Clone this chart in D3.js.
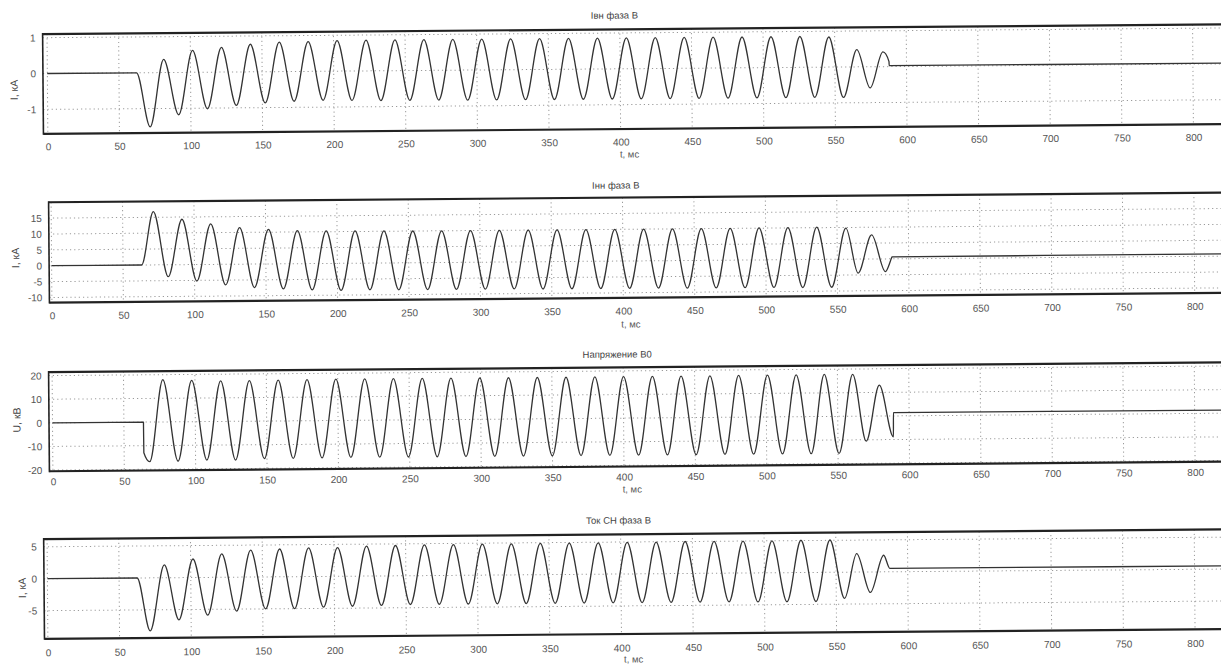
<!DOCTYPE html>
<html><head><meta charset="utf-8">
<script src="https://cdn.jsdelivr.net/npm/d3@7"></script>
<style>
body{margin:0;background:#fff}
svg{display:block}
text{font-family:Arial,"Liberation Sans",sans-serif}
</style>
</head><body>
<svg id="c" width="1221" height="668"></svg>
<script>
// ---------- data ----------
const timeTicks = [0,50,100,150,200,250,300,350,400,450,500,550,600,650,700,750,800];
const panelTitles = ["Iвн фаза В","Iнн фаза В","Напряжение В0","Ток СН фаза В"];
const yAxisLabels = ["I, кА","I, кА","U, кВ","I, кА"];
const xAxisLabel = "t, мс";
const yTicksIvn = [-1,0,1];
const yTicksInn = [-10,-5,0,5,10,15];
const yTicksU   = [-20,-10,0,10,20];
const yTicksIsn = [-5,0,5];

// [t (ms), value] : start, peaks/troughs, end
const ivnPhaseB = [[0,0],[62.3,0],[71.5,-1.51],[81.3,0.37],[91.5,-1.18],[101.5,0.61],[111.6,-1.02],[121.7,0.69],[131.8,-0.93],[141.9,0.77],[152.0,-0.87],[162.1,0.82],[172.2,-0.83],[182.3,0.83],[192.4,-0.81],[202.5,0.85],[212.6,-0.82],[222.7,0.86],[232.8,-0.83],[242.9,0.86],[253.0,-0.83],[263.1,0.86],[273.2,-0.83],[283.3,0.86],[293.4,-0.84],[303.5,0.86],[313.6,-0.84],[323.7,0.86],[333.8,-0.84],[343.9,0.86],[354.0,-0.84],[364.1,0.86],[374.2,-0.84],[384.3,0.86],[394.4,-0.84],[404.5,0.86],[414.6,-0.84],[424.7,0.86],[434.8,-0.84],[444.9,0.86],[455.0,-0.84],[465.1,0.86],[475.2,-0.84],[485.3,0.86],[495.4,-0.84],[505.5,0.86],[515.6,-0.84],[525.7,0.86],[535.8,-0.84],[545.9,0.84],[555.8,-0.85],[565.4,0.48],[574.5,-0.59],[583.6,0.41],[587.8,0.14],[587.9,0.03],[830,0.02]];

const innPhaseB = [[0,0],[63,0],[71.5,16.8],[81.6,-3.75],[91.5,14.3],[101.6,-5.2],[111.6,12.8],[121.7,-6.5],[131.8,11.5],[141.9,-7.4],[152.0,10.9],[162.1,-7.9],[172.2,10.4],[182.3,-8.3],[192.4,10.3],[202.5,-8.5],[212.6,10.2],[222.7,-8.4],[232.8,10.1],[242.9,-8.5],[253.0,10.0],[263.1,-8.5],[273.2,10.0],[283.3,-8.5],[293.4,10.0],[303.5,-8.5],[313.6,10.0],[323.7,-8.5],[333.8,10.0],[343.9,-8.6],[354.0,10.0],[364.1,-8.6],[374.2,10.0],[384.3,-8.6],[394.4,10.0],[404.5,-8.6],[414.6,10.0],[424.7,-8.6],[434.8,10.0],[444.9,-8.7],[455.0,10.0],[465.1,-8.7],[475.2,10.0],[485.3,-8.7],[495.4,10.1],[505.5,-8.7],[515.6,10.1],[525.7,-8.8],[535.8,10.2],[545.9,-8.8],[556.2,9.8],[564.5,-4.4],[574.2,7.6],[583.6,-4.0],[588.2,0.5],[588.3,0.6],[830,0.7]];

const voltageB0 = [[0,0],[63.7,0],[63.8,-13],[67.9,-16.8],[77.5,17.9],[87.7,-16.7],[97.7,17.5],[107.9,-16.3],[118.0,17.2],[128.0,-16.4],[138.1,17.2],[148.2,-15.9],[158.3,17.3],[168.4,-15.9],[178.5,17.4],[188.6,-15.8],[198.7,17.5],[208.8,-15.7],[218.9,17.5],[229.0,-15.7],[239.0,17.5],[249.1,-15.7],[259.2,17.5],[269.3,-15.7],[279.3,17.5],[289.4,-15.7],[299.5,17.5],[309.6,-15.7],[319.6,17.5],[329.7,-15.7],[339.8,17.5],[349.9,-15.7],[359.9,17.5],[370.0,-15.7],[380.1,17.6],[390.2,-15.7],[400.2,17.6],[410.3,-15.7],[420.4,17.6],[430.5,-15.7],[440.5,17.6],[450.6,-15.7],[460.7,17.6],[470.8,-15.7],[480.8,17.7],[490.9,-15.7],[501.0,17.7],[511.1,-15.7],[521.1,17.7],[531.2,-15.7],[540.8,17.8],[550.7,-15.7],[560.7,17.7],[569.8,-10.6],[579.3,13.1],[588.9,-8.9],[589.0,1.4],[830,1.3]];

const isnPhaseB = [[0,0],[62.6,0],[71.4,-8.3],[81.6,2.0],[91.5,-6.6],[101.6,2.9],[111.6,-5.9],[121.7,3.65],[131.8,-5.3],[141.9,4.2],[152.0,-5.0],[162.1,4.35],[172.2,-5.0],[182.3,4.5],[192.4,-4.8],[202.5,4.5],[212.6,-4.7],[222.7,4.7],[232.8,-4.6],[242.9,4.75],[253.0,-4.5],[263.1,4.8],[273.2,-4.5],[283.3,4.8],[293.4,-4.5],[303.5,4.85],[313.6,-4.5],[323.7,4.85],[333.8,-4.5],[343.9,4.9],[354.0,-4.5],[364.1,4.9],[374.2,-4.5],[384.3,4.9],[394.4,-4.5],[404.5,4.95],[414.6,-4.5],[424.7,4.95],[434.8,-4.5],[444.9,5.0],[455.0,-4.5],[465.1,5.0],[475.2,-4.5],[485.3,5.0],[495.4,-4.55],[505.5,5.0],[515.6,-4.55],[525.7,5.05],[535.8,-4.55],[545.9,5.05],[555.8,-4.1],[564.5,2.9],[573.8,-3.2],[583.3,2.6],[587.5,0.55],[830,0.5]];

const yDomains = [[-1.68,1.10],[-11.6,20.0],[-20.5,21.5],[-9.4,6.2]];

// ---------- layout (positions only) ----------
const layout = [
  {left:45.1, top:29.3,  bottom:129,   x0:49.5, x800:1195.1, titleY:16,  tickY:142, xLabY:155, yLabX:17, yLabY:85},
  {left:49.7, top:197.5, bottom:297.8, x0:52.2, x800:1195.0, titleY:186, tickY:311, xLabY:325, yLabX:17, yLabY:253},
  {left:48.3, top:367.3, bottom:466.5, x0:51.8, x800:1194.0, titleY:355, tickY:477, xLabY:490, yLabX:17, yLabY:415},
  {left:42.0, top:534.3, bottom:634,   x0:45.4, x800:1192.6, titleY:521, tickY:648, xLabY:660, yLabX:21, yLabY:583}
];
const series = [ivnPhaseB, innPhaseB, voltageB0, isnPhaseB];
const yTickSets = [yTicksIvn, yTicksInn, yTicksU, yTicksIsn];

const svg = d3.select("#c");
svg.append("rect").attr("width",1221).attr("height",668).attr("fill","#fff");
const root = svg.append("g").attr("transform","rotate(-0.47,630,334)");

layout.forEach((L,i)=>{
  const x = d3.scaleLinear().domain([0,800]).range([L.x0,L.x800]);
  const y = d3.scaleLinear().domain(yDomains[i]).range([L.bottom,L.top]);
  const right = 1240;
  const g = root.append("g");

  // grid
  g.append("g").selectAll("line").data(timeTicks).join("line")
    .attr("x1",d=>x(d)).attr("x2",d=>x(d)).attr("y1",L.top).attr("y2",L.bottom)
    .attr("stroke","#9a9a9a").attr("stroke-width",1).attr("stroke-dasharray","1.2,3");
  g.append("g").selectAll("line").data(yTickSets[i]).join("line")
    .attr("x1",L.left).attr("x2",right).attr("y1",d=>y(d)).attr("y2",d=>y(d))
    .attr("stroke","#9a9a9a").attr("stroke-width",1).attr("stroke-dasharray","1.2,3");

  // curve
  const line = d3.line().x(d=>x(d[0])).y(d=>y(d[1])).curve(d3.curveMonotoneX);
  g.append("path").datum(series[i]).attr("d",line)
    .attr("fill","none").attr("stroke","#333").attr("stroke-width",1.3).attr("stroke-linejoin","round");

  // frame
  g.append("line").attr("x1",L.left).attr("x2",right).attr("y1",L.top).attr("y2",L.top)
    .attr("stroke","#222").attr("stroke-width",2.2);
  g.append("line").attr("x1",L.left).attr("x2",right).attr("y1",L.bottom).attr("y2",L.bottom)
    .attr("stroke","#222").attr("stroke-width",2.2);
  g.append("line").attr("x1",L.left).attr("x2",L.left).attr("y1",L.top-1).attr("y2",L.bottom+1)
    .attr("stroke","#222").attr("stroke-width",1.6);

  // x axis tick labels
  const ax = g.append("g").attr("transform",`translate(0,${L.tickY-3.6})`)
    .call(d3.axisBottom(x).tickValues(timeTicks).tickSize(0).tickPadding(0).tickFormat(d=>String(d)));
  ax.select(".domain").remove();
  ax.selectAll("text").attr("font-size",10).attr("fill","#555").attr("font-family","Arial,'Liberation Sans',sans-serif");

  // y axis tick labels
  const ay = g.append("g").attr("transform",`translate(${L.left},0)`)
    .call(d3.axisLeft(y).tickValues(yTickSets[i]).tickSize(0).tickPadding(7).tickFormat(d=>String(d)));
  ay.select(".domain").remove();
  ay.selectAll("text").attr("font-size",10).attr("fill","#555").attr("font-family","Arial,'Liberation Sans',sans-serif");

  // titles & labels
  g.append("text").attr("x",617).attr("y",L.titleY).attr("text-anchor","middle")
    .attr("dominant-baseline","middle").attr("font-size",9.5).attr("fill","#444").text(panelTitles[i]);
  g.append("text").attr("x",631).attr("y",L.xLabY).attr("text-anchor","middle")
    .attr("dominant-baseline","middle").attr("font-size",9.5).attr("fill","#555").text(xAxisLabel);
  g.append("text").attr("transform",`translate(${L.yLabX},${L.yLabY}) rotate(-90)`)
    .attr("text-anchor","middle").attr("dominant-baseline","middle")
    .attr("font-size",10.5).attr("fill","#444").text(yAxisLabels[i]);
});
</script>
</body></html>
